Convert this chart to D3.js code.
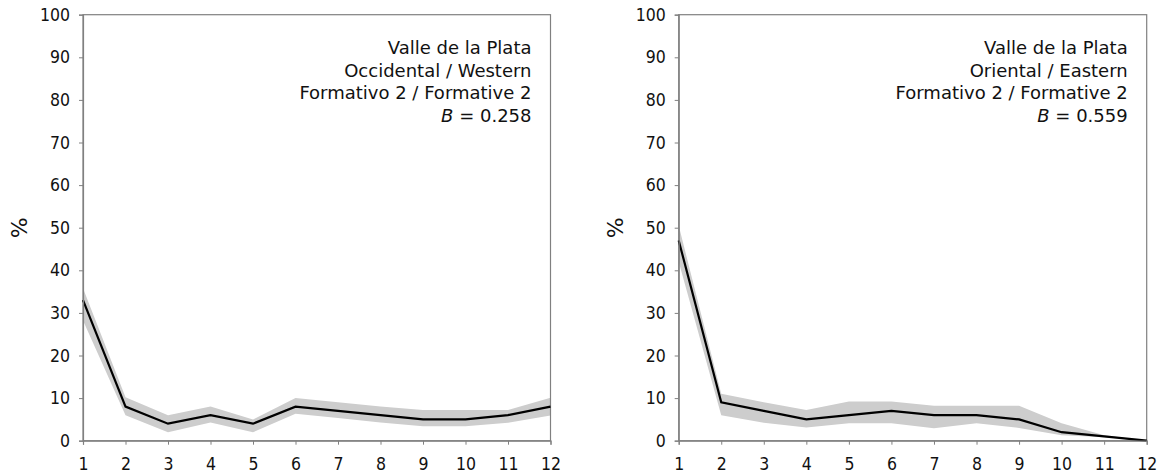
<!DOCTYPE html>
<html>
<head>
<meta charset="utf-8">
<script src="https://cdn.jsdelivr.net/npm/d3@7"></script>
<style>
  html, body { margin: 0; padding: 0; background: #fff; }
  svg { display: block; }
  text { font-family: "DejaVu Sans", Verdana, sans-serif; fill: #111; }
  .tick text { font-family: "DejaVu Sans Condensed", "DejaVu Sans", sans-serif; }
</style>
</head>
<body>
<svg id="chart" width="1163" height="476"></svg>
<script>
// Rank positions on the x axis
const ranks = [1, 2, 3, 4, 5, 6, 7, 8, 9, 10, 11, 12];
const yTicks = [0, 10, 20, 30, 40, 50, 60, 70, 80, 90, 100];

// Western sub-region, Formative 2
const westMean  = [33, 8, 4, 6, 4, 8, 7, 6, 5, 5, 6, 8];
const westUpper = [35.8, 10.2, 6, 8, 5, 10, 9, 8, 7.2, 7.2, 7.2, 10.1];
const westLower = [28.2, 6, 2, 4.3, 2, 6.3, 5.3, 4.3, 3.4, 3.4, 4.2, 5.9];
const westLabel = ["Valle de la Plata", "Occidental / Western", "Formativo 2 / Formative 2"];
const westB = "0.258";

// Eastern sub-region, Formative 2
const eastMean  = [47, 9, 7, 5, 6, 7, 6, 6, 5, 2, 1, 0];
const eastUpper = [50.5, 11, 9, 7.2, 9.2, 9.2, 8.2, 8.2, 8.2, 4.1, 1.3, 0];
const eastLower = [42, 6, 4.2, 3.1, 4.1, 4.1, 2.9, 4.1, 3, 1.3, 0.8, 0];
const eastLabel = ["Valle de la Plata", "Oriental / Eastern", "Formativo 2 / Formative 2"];
const eastB = "0.559";

const svg = d3.select("#chart");
const tickFont = 17.5;

function panel(x0, x1, mean, upper, lower, label, bVal) {
  const top = 14.7, bottom = 440.7;
  const x = d3.scaleLinear().domain([1, 12]).range([x0, x1]);
  const y = d3.scaleLinear().domain([0, 100]).range([bottom, top]);
  const g = svg.append("g");

  const rows = ranks.map((r, i) => ({ r, m: mean[i], hi: upper[i], lo: lower[i] }));

  // confidence band
  g.append("path")
    .datum(rows)
    .attr("fill", "#cdcdcd")
    .attr("d", d3.area().x(d => x(d.r)).y0(d => y(d.lo)).y1(d => y(d.hi)));

  // frame
  g.append("rect")
    .attr("x", x0).attr("y", top)
    .attr("width", x1 - x0).attr("height", bottom - top)
    .attr("fill", "none").attr("stroke", "#808080").attr("stroke-width", 1.2);

  // mean line
  g.append("path")
    .datum(rows)
    .attr("fill", "none").attr("stroke", "#000").attr("stroke-width", 2.2)
    .attr("d", d3.line().x(d => x(d.r)).y(d => y(d.m)));

  // y axis
  const ya = g.append("g").attr("transform", `translate(${x0},0)`)
    .call(d3.axisLeft(y).tickValues(yTicks).tickSize(4).tickPadding(9).tickFormat(d3.format("d")));
  ya.attr("font-size", tickFont);
  ya.select(".domain").attr("stroke", "#808080").attr("stroke-width", 1.2);
  ya.selectAll(".tick line").attr("stroke", "#808080");
  ya.selectAll(".tick text").style("font-size", tickFont + "px").attr("fill", "#111");

  // x axis
  const xa = g.append("g").attr("transform", `translate(0,${bottom})`)
    .call(d3.axisBottom(x).tickValues(ranks).tickSize(4).tickPadding(13).tickFormat(d3.format("d")));
  xa.attr("font-size", tickFont);
  xa.select(".domain").attr("stroke", "#808080").attr("stroke-width", 1.2);
  xa.selectAll(".tick line").attr("stroke", "#808080");
  xa.selectAll(".tick text").style("font-size", tickFont + "px").attr("fill", "#111");

  // y axis title
  g.append("text")
    .attr("transform", `translate(${x0 - 64},${(top + bottom) / 2}) rotate(-90)`)
    .attr("text-anchor", "middle")
    .attr("dy", "0.36em")
    .attr("font-size", 22)
    .text("%");

  // annotation block
  const tx = x1 - 19;
  label.forEach((s, i) => {
    g.append("text")
      .attr("x", tx).attr("y", 54 + i * 22.5)
      .attr("text-anchor", "end").attr("font-size", 18)
      .text(s);
  });
  const bt = g.append("text")
    .attr("x", tx).attr("y", 54 + 3 * 22.5)
    .attr("text-anchor", "end").attr("font-size", 18);
  bt.append("tspan").attr("font-style", "italic").text("B");
  bt.append("tspan").text(" = " + bVal);
}

panel(83, 550.5, westMean, westUpper, westLower, westLabel, westB);
panel(678.7, 1146.7, eastMean, eastUpper, eastLower, eastLabel, eastB);
</script>
</body>
</html>
